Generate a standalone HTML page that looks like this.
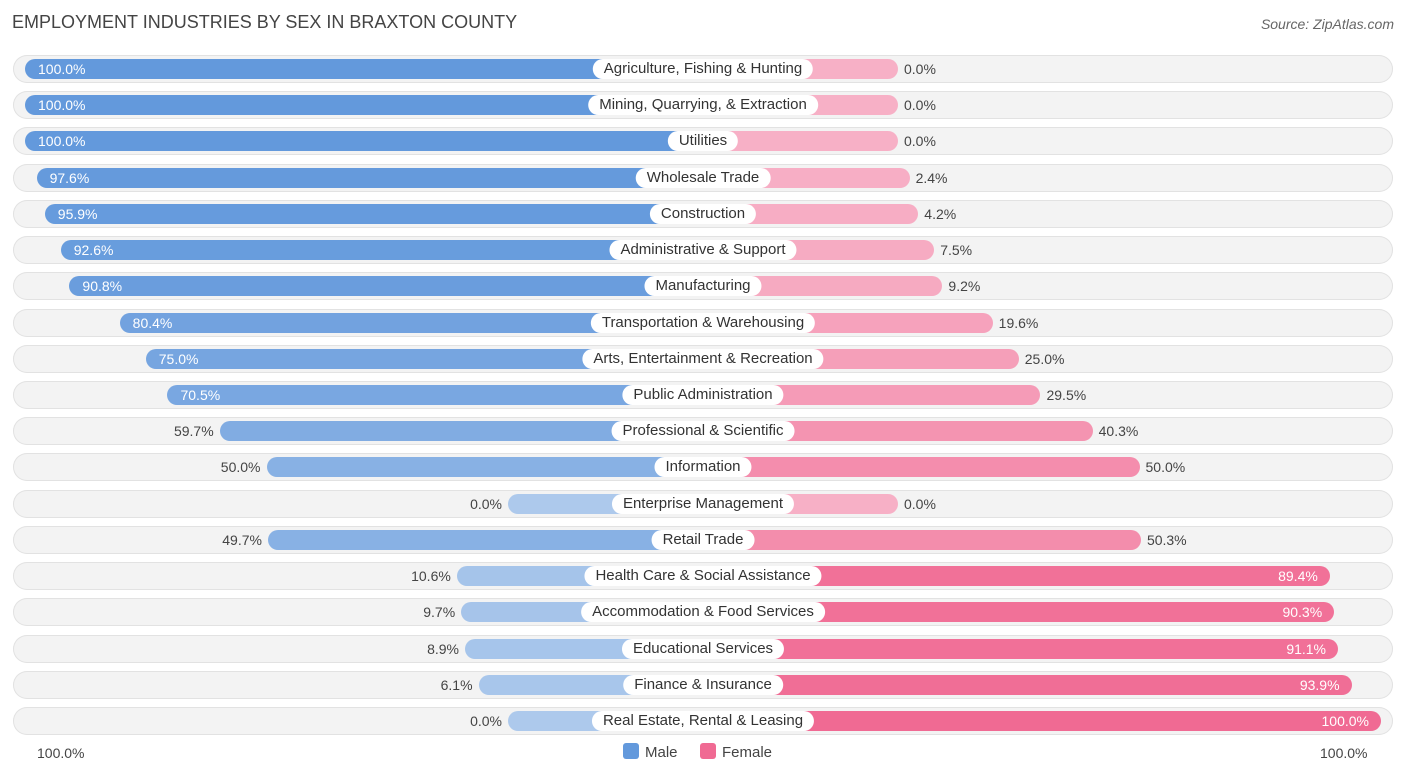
<!DOCTYPE html>
<html><head><meta charset="utf-8"><style>
body{margin:0;background:#fff;font-family:"Liberation Sans",sans-serif;}
#wrap{position:relative;width:1406px;height:776px;overflow:hidden;}
.title{position:absolute;left:12px;top:12px;font-size:18px;color:#444;}
.src{position:absolute;right:12px;top:16px;font-size:14px;color:#666;font-style:italic;}
.rowbg{position:absolute;left:13px;width:1380px;height:28px;border-radius:14px;background:#f3f3f3;box-shadow:inset 0 0 0 1px #e2e2e2;}
.bar{position:absolute;height:20px;border-radius:10px;}
.lbl{position:absolute;height:20px;line-height:20px;padding:0 11px;background:#fff;border-radius:10px;font-size:15px;color:#333;transform:translateX(-50%);white-space:nowrap;}
.val{position:absolute;font-size:14px;line-height:20px;color:#444;}
.val.in{color:#fff;}
.leg{position:absolute;top:743px;font-size:15px;color:#444;}
.sw{display:inline-block;width:16px;height:16px;border-radius:3px;vertical-align:-2px;margin-right:6px;}
</style></head><body>
<div id="wrap">
<div class="title">EMPLOYMENT INDUSTRIES BY SEX IN BRAXTON COUNTY</div>
<div class="src">Source: ZipAtlas.com</div>
<div id="rows"></div>
<div class="val" style="left:37px;top:743px">100.0%</div>
<div class="val" style="left:1320px;top:743px">100.0%</div>
<div class="leg" style="left:623px"><span class="sw" style="background:#6399dc"></span>Male</div>
<div class="leg" style="left:700px"><span class="sw" style="background:#f06a93"></span>Female</div>
</div>
<script>
const categories=["Agriculture, Fishing & Hunting","Mining, Quarrying, & Extraction","Utilities","Wholesale Trade","Construction","Administrative & Support","Manufacturing","Transportation & Warehousing","Arts, Entertainment & Recreation","Public Administration","Professional & Scientific","Information","Enterprise Management","Retail Trade","Health Care & Social Assistance","Accommodation & Food Services","Educational Services","Finance & Insurance","Real Estate, Rental & Leasing"];
const maleValues=[100,100,100,97.6,95.9,92.6,90.8,80.4,75.0,70.5,59.7,50.0,0.0,49.7,10.6,9.7,8.9,6.1,0.0];
const femaleValues=[0,0,0,2.4,4.2,7.5,9.2,19.6,25.0,29.5,40.3,50.0,0.0,50.3,89.4,90.3,91.1,93.9,100];
const cx=703,base=195,scale=4.83,y0=69,step=36.22;
function len(v){return base+scale*v;}
function mix(a,b,t){return 'rgb('+a.map((x,i)=>Math.round(x+(b[i]-x)*t)).join(',')+')';}
const mLo=[173,201,236],mHi=[99,153,220],fLo=[247,176,198],fHi=[240,106,147];
const rows=document.getElementById('rows');
function add(cls,style,text,name){const d=document.createElement('div');d.className=cls;d.style.cssText=style;if(text!=null)d.textContent=text;


rows.appendChild(d);return d;}
categories.forEach((c,i)=>{
 const y=y0+i*step;
 add('rowbg','top:'+(y-14)+'px',null,'row-background');
 const m=maleValues[i],f=femaleValues[i];
 const ml=len(m),fl=len(f);
 const mb=add('bar','left:'+(cx-ml)+'px;top:'+(y-10)+'px;width:'+ml+'px;background:'+mix(mLo,mHi,m/100),null,'bar-male');
 
 const fb=add('bar','left:'+cx+'px;top:'+(y-10)+'px;width:'+fl+'px;background:'+mix(fLo,fHi,f/100),null,'bar-female');
 
 add('lbl','left:'+cx+'px;top:'+(y-10)+'px',c,'category-label');
 const mt=m.toFixed(1)+'%',ft=f.toFixed(1)+'%';
 if(m>=65){add('val in','left:'+(cx-ml+13)+'px;top:'+(y-10)+'px',mt,'value-male');}
 else{const d=add('val','right:'+(1406-(cx-ml)+6)+'px;top:'+(y-10)+'px',mt,'value-male');}
 if(f>=65){add('val in','right:'+(1406-(cx+fl)+12)+'px;top:'+(y-10)+'px',ft,'value-female');}
 else{add('val','left:'+(cx+fl+6)+'px;top:'+(y-10)+'px',ft,'value-female');}
});
</script>
</body></html>
